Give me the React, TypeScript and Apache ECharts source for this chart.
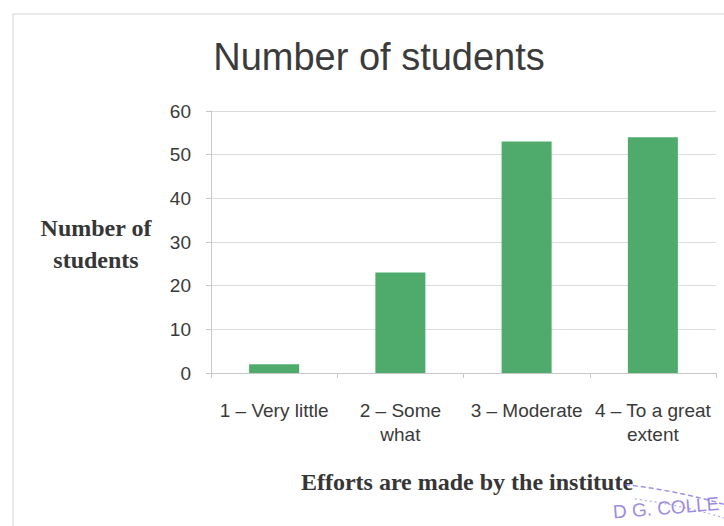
import React, { useEffect, useRef } from "react";
import * as echarts from "echarts";

const categories = ["1 – Very little", "2 – Some\nwhat", "3 – Moderate", "4 – To a great\nextent"];
const students = [2, 23, 53, 54];
const yTicks = { min: 0, max: 60, interval: 10 };
const titleText = "Number of students";
const yName = "Number of\nstudents";
const xName = "Efforts are made by the institute";
const stampText = "D G. COLLE";

export default function App() {
  const ref = useRef<HTMLDivElement>(null);
  useEffect(() => {
    if (!ref.current) return;
    const chart = echarts.init(ref.current, null, { renderer: "svg" });
    const sans = "'Liberation Sans', Arial, sans-serif";
    const serif = "'Liberation Serif', 'Times New Roman', serif";
    chart.setOption({
      animation: false,
      backgroundColor: "#ffffff",
      title: {
        text: titleText,
        left: 374,
        top: 33,
        textAlign: "center",
        textStyle: { fontFamily: sans, fontSize: 38, fontWeight: "normal", color: "#3b3b3b" },
      },
      grid: { left: 211, right: 8, top: 111, bottom: 153 },
      xAxis: {
        type: "category",
        data: categories,
        axisLine: { show: true, lineStyle: { color: "#c8c8c8", width: 1 } },
        axisTick: { show: true, length: 5, lineStyle: { color: "#c8c8c8" } },
        axisLabel: {
          interval: 0,
          margin: 25,
          fontFamily: sans,
          fontSize: 19,
          lineHeight: 24,
          color: "#3a3a3a",
        },
      },
      yAxis: {
        type: "value",
        min: yTicks.min,
        max: yTicks.max,
        interval: yTicks.interval,
        axisLine: { show: true, lineStyle: { color: "#c8c8c8", width: 1 } },
        axisTick: { show: true, length: 5, lineStyle: { color: "#c8c8c8" } },
        axisLabel: { margin: 20, fontFamily: sans, fontSize: 19, color: "#3a3a3a" },
        splitLine: { show: true, lineStyle: { color: "#dcdcdc", width: 1 } },
      },
      series: [
        {
          type: "bar",
          data: students,
          barWidth: 50,
          itemStyle: { color: "#4fab6c" },
        },
      ],
      graphic: [
        {
          type: "rect",
          shape: { x: 13, y: 14, width: 900, height: 700 },
          style: { fill: "none", stroke: "#d4d4d4", lineWidth: 1 },
          silent: true,
        },
        {
          type: "text",
          x: 96,
          y: 244,
          style: {
            text: yName,
            fontFamily: serif,
            fontWeight: "bold",
            fontSize: 24,
            lineHeight: 32,
            fill: "#363636",
            textAlign: "center",
            textVerticalAlign: "middle",
          },
        },
        {
          type: "text",
          x: 467,
          y: 482,
          style: {
            text: xName,
            fontFamily: serif,
            fontWeight: "bold",
            fontSize: 24,
            fill: "#363636",
            textAlign: "center",
            textVerticalAlign: "middle",
          },
        },
        {
          type: "arc",
          shape: { cx: 560, cy: 1068, r: 587, startAngle: -1.46, endAngle: -1.24, clockwise: true },
          style: { stroke: "rgba(120,100,220,0.7)", lineWidth: 1.5, lineDash: [5, 3], fill: "none" },
          silent: true,
        },
        {
          type: "arc",
          shape: { cx: 560, cy: 1068, r: 574, startAngle: -1.44, endAngle: -1.24, clockwise: true },
          style: { stroke: "rgba(120,100,220,0.55)", lineWidth: 1.2, lineDash: [2, 3], fill: "none" },
          silent: true,
        },
        {
          type: "text",
          x: 720,
          y: 513,
          rotation: 0.08,
          style: {
            text: stampText,
            fontFamily: sans,
            fontSize: 19,
            fill: "rgba(120,100,220,0.75)",
            textAlign: "right",
            textVerticalAlign: "bottom",
          },
          silent: true,
        },
      ],
    });
    return () => chart.dispose();
  }, []);
  return (
    <div
      ref={ref}
      style={{ position: "fixed", left: 0, top: 0, width: 724, height: 526 }}
    />
  );
}
